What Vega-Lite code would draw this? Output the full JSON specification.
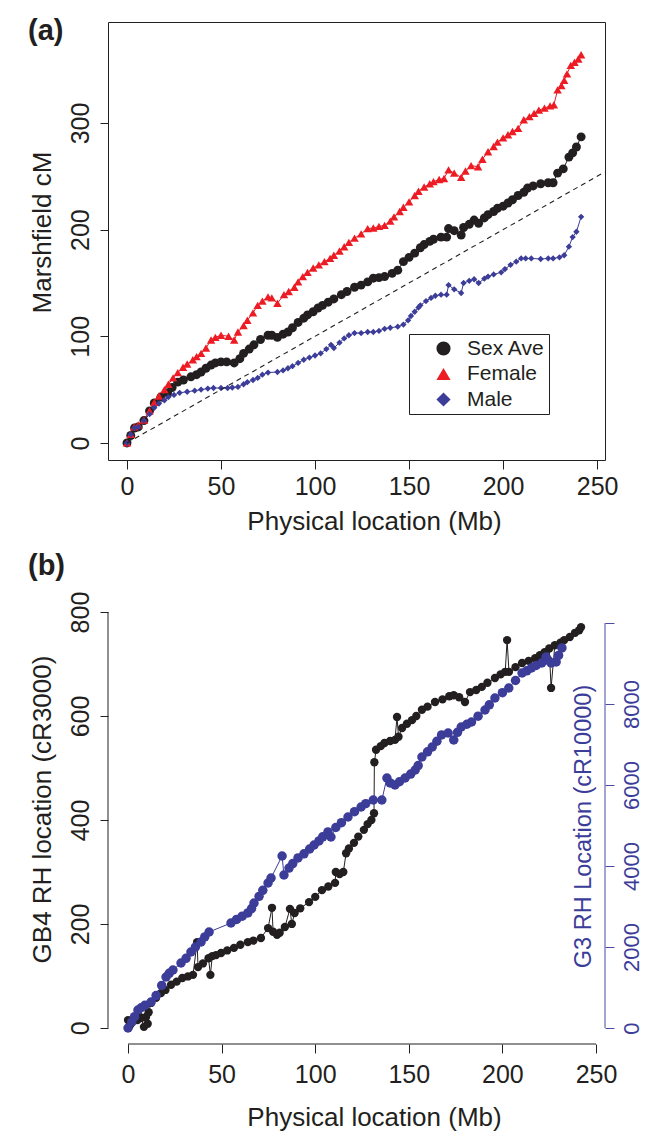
{
  "$schema": "https://vega.github.io/schema/vega-lite/v6.json",
  "padding": {"left": 27, "top": 16, "right": 5, "bottom": 5},
  "spacing": 17,
  "config": {
    "font": "Liberation Sans",
    "view": {"stroke": null},
    "axis": {"grid": false, "domain": false, "tickColor": "#231F20", "tickWidth": 1, "labelColor": "#231F20", "titleColor": "#231F20", "labelFontSize": 25, "titleFontSize": 26, "titleFontWeight": "normal", "labelFlush": false, "labelOverlap": false, "labelBound": false, "labelFont": "Liberation Sans", "titleFont": "Liberation Sans"}
  },
  "datasets": {
    "a": [
      {"pos":0,"cM":0,"series":"Sex Ave"},{"pos":2,"cM":7,"series":"Sex Ave"},{"pos":4,"cM":14,"series":"Sex Ave"},{"pos":6,"cM":15,"series":"Sex Ave"},{"pos":9,"cM":21,"series":"Sex Ave"},{"pos":12,"cM":30,"series":"Sex Ave"},{"pos":14.5,"cM":37.5,"series":"Sex Ave"},{"pos":18,"cM":43,"series":"Sex Ave"},{"pos":21.6,"cM":47,"series":"Sex Ave"},{"pos":24,"cM":52,"series":"Sex Ave"},{"pos":27,"cM":57,"series":"Sex Ave"},{"pos":30,"cM":59,"series":"Sex Ave"},{"pos":34,"cM":62,"series":"Sex Ave"},{"pos":37,"cM":64,"series":"Sex Ave"},{"pos":39.4,"cM":66.5,"series":"Sex Ave"},{"pos":42,"cM":70,"series":"Sex Ave"},{"pos":44.7,"cM":73,"series":"Sex Ave"},{"pos":47,"cM":75,"series":"Sex Ave"},{"pos":50,"cM":76,"series":"Sex Ave"},{"pos":53,"cM":76,"series":"Sex Ave"},{"pos":57,"cM":75,"series":"Sex Ave"},{"pos":60,"cM":79,"series":"Sex Ave"},{"pos":62,"cM":84,"series":"Sex Ave"},{"pos":65,"cM":88,"series":"Sex Ave"},{"pos":67.5,"cM":92,"series":"Sex Ave"},{"pos":71,"cM":97,"series":"Sex Ave"},{"pos":75,"cM":101,"series":"Sex Ave"},{"pos":77,"cM":101,"series":"Sex Ave"},{"pos":80,"cM":99,"series":"Sex Ave"},{"pos":83,"cM":102,"series":"Sex Ave"},{"pos":85.6,"cM":104,"series":"Sex Ave"},{"pos":88,"cM":108,"series":"Sex Ave"},{"pos":91,"cM":113,"series":"Sex Ave"},{"pos":94,"cM":117,"series":"Sex Ave"},{"pos":96,"cM":120,"series":"Sex Ave"},{"pos":99,"cM":123,"series":"Sex Ave"},{"pos":101.6,"cM":126.5,"series":"Sex Ave"},{"pos":104,"cM":129,"series":"Sex Ave"},{"pos":107,"cM":132,"series":"Sex Ave"},{"pos":110,"cM":135,"series":"Sex Ave"},{"pos":114,"cM":139,"series":"Sex Ave"},{"pos":117,"cM":142,"series":"Sex Ave"},{"pos":121,"cM":146,"series":"Sex Ave"},{"pos":124.5,"cM":148,"series":"Sex Ave"},{"pos":128,"cM":151,"series":"Sex Ave"},{"pos":131,"cM":154.5,"series":"Sex Ave"},{"pos":134,"cM":155,"series":"Sex Ave"},{"pos":137,"cM":156,"series":"Sex Ave"},{"pos":141,"cM":159,"series":"Sex Ave"},{"pos":144,"cM":162,"series":"Sex Ave"},{"pos":147,"cM":170,"series":"Sex Ave"},{"pos":150,"cM":174,"series":"Sex Ave"},{"pos":153,"cM":178,"series":"Sex Ave"},{"pos":156,"cM":183,"series":"Sex Ave"},{"pos":158,"cM":186,"series":"Sex Ave"},{"pos":161,"cM":189,"series":"Sex Ave"},{"pos":163,"cM":191,"series":"Sex Ave"},{"pos":167,"cM":193,"series":"Sex Ave"},{"pos":170,"cM":193,"series":"Sex Ave"},{"pos":171,"cM":201,"series":"Sex Ave"},{"pos":174,"cM":199,"series":"Sex Ave"},{"pos":177.7,"cM":195,"series":"Sex Ave"},{"pos":179,"cM":202,"series":"Sex Ave"},{"pos":182,"cM":205,"series":"Sex Ave"},{"pos":184.6,"cM":209,"series":"Sex Ave"},{"pos":187,"cM":206,"series":"Sex Ave"},{"pos":190,"cM":211,"series":"Sex Ave"},{"pos":192,"cM":214,"series":"Sex Ave"},{"pos":195,"cM":217,"series":"Sex Ave"},{"pos":197,"cM":220,"series":"Sex Ave"},{"pos":200,"cM":222,"series":"Sex Ave"},{"pos":202.6,"cM":225,"series":"Sex Ave"},{"pos":205,"cM":228,"series":"Sex Ave"},{"pos":208,"cM":232,"series":"Sex Ave"},{"pos":211,"cM":235,"series":"Sex Ave"},{"pos":213,"cM":239,"series":"Sex Ave"},{"pos":216,"cM":241,"series":"Sex Ave"},{"pos":220,"cM":243,"series":"Sex Ave"},{"pos":224,"cM":244,"series":"Sex Ave"},{"pos":226.6,"cM":244,"series":"Sex Ave"},{"pos":229,"cM":253,"series":"Sex Ave"},{"pos":232,"cM":257,"series":"Sex Ave"},{"pos":235,"cM":268,"series":"Sex Ave"},{"pos":237,"cM":272,"series":"Sex Ave"},{"pos":239,"cM":277.5,"series":"Sex Ave"},{"pos":241.5,"cM":287,"series":"Sex Ave"},
      {"pos":0,"cM":0,"series":"Female"},{"pos":2,"cM":8,"series":"Female"},{"pos":3.9,"cM":15,"series":"Female"},{"pos":6,"cM":17,"series":"Female"},{"pos":9,"cM":21.5,"series":"Female"},{"pos":12,"cM":30,"series":"Female"},{"pos":14.5,"cM":38,"series":"Female"},{"pos":17,"cM":44,"series":"Female"},{"pos":19.9,"cM":50,"series":"Female"},{"pos":22,"cM":55,"series":"Female"},{"pos":24.5,"cM":61,"series":"Female"},{"pos":27,"cM":66,"series":"Female"},{"pos":29.8,"cM":71,"series":"Female"},{"pos":32,"cM":74,"series":"Female"},{"pos":35,"cM":78,"series":"Female"},{"pos":37,"cM":81,"series":"Female"},{"pos":39.4,"cM":84,"series":"Female"},{"pos":42,"cM":89,"series":"Female"},{"pos":44.7,"cM":96.5,"series":"Female"},{"pos":47,"cM":99,"series":"Female"},{"pos":50,"cM":101,"series":"Female"},{"pos":54,"cM":100,"series":"Female"},{"pos":57,"cM":96.5,"series":"Female"},{"pos":59,"cM":104,"series":"Female"},{"pos":62,"cM":110,"series":"Female"},{"pos":64,"cM":115,"series":"Female"},{"pos":67,"cM":122,"series":"Female"},{"pos":69.5,"cM":129,"series":"Female"},{"pos":72,"cM":133,"series":"Female"},{"pos":75,"cM":137,"series":"Female"},{"pos":77,"cM":136,"series":"Female"},{"pos":80,"cM":131,"series":"Female"},{"pos":83.5,"cM":139,"series":"Female"},{"pos":86,"cM":142,"series":"Female"},{"pos":89,"cM":146,"series":"Female"},{"pos":91,"cM":151,"series":"Female"},{"pos":93.5,"cM":156,"series":"Female"},{"pos":96,"cM":160,"series":"Female"},{"pos":99,"cM":164,"series":"Female"},{"pos":102,"cM":167,"series":"Female"},{"pos":105,"cM":170,"series":"Female"},{"pos":108,"cM":173,"series":"Female"},{"pos":110,"cM":176,"series":"Female"},{"pos":113,"cM":180,"series":"Female"},{"pos":115.5,"cM":184,"series":"Female"},{"pos":118,"cM":188,"series":"Female"},{"pos":121,"cM":192,"series":"Female"},{"pos":124.5,"cM":196,"series":"Female"},{"pos":128,"cM":201,"series":"Female"},{"pos":131,"cM":201.5,"series":"Female"},{"pos":134,"cM":203,"series":"Female"},{"pos":137,"cM":204,"series":"Female"},{"pos":140,"cM":208,"series":"Female"},{"pos":142,"cM":212,"series":"Female"},{"pos":145,"cM":217,"series":"Female"},{"pos":147,"cM":221,"series":"Female"},{"pos":150,"cM":226,"series":"Female"},{"pos":153,"cM":232,"series":"Female"},{"pos":155,"cM":236,"series":"Female"},{"pos":158,"cM":240,"series":"Female"},{"pos":161,"cM":243,"series":"Female"},{"pos":163,"cM":245,"series":"Female"},{"pos":166,"cM":247,"series":"Female"},{"pos":168.6,"cM":248,"series":"Female"},{"pos":171,"cM":256,"series":"Female"},{"pos":174,"cM":253,"series":"Female"},{"pos":177.7,"cM":249,"series":"Female"},{"pos":180,"cM":255,"series":"Female"},{"pos":183,"cM":260,"series":"Female"},{"pos":186.7,"cM":259,"series":"Female"},{"pos":189,"cM":266,"series":"Female"},{"pos":192,"cM":273,"series":"Female"},{"pos":195,"cM":278,"series":"Female"},{"pos":197,"cM":282,"series":"Female"},{"pos":200,"cM":286,"series":"Female"},{"pos":202.6,"cM":289,"series":"Female"},{"pos":205,"cM":292,"series":"Female"},{"pos":208,"cM":295,"series":"Female"},{"pos":211,"cM":303,"series":"Female"},{"pos":214,"cM":306,"series":"Female"},{"pos":216.5,"cM":309,"series":"Female"},{"pos":219,"cM":312,"series":"Female"},{"pos":222,"cM":314,"series":"Female"},{"pos":225,"cM":316,"series":"Female"},{"pos":227,"cM":317,"series":"Female"},{"pos":229,"cM":331,"series":"Female"},{"pos":231,"cM":335,"series":"Female"},{"pos":232.5,"cM":340,"series":"Female"},{"pos":234,"cM":346,"series":"Female"},{"pos":236,"cM":354,"series":"Female"},{"pos":238,"cM":357,"series":"Female"},{"pos":240,"cM":360,"series":"Female"},{"pos":241.5,"cM":364,"series":"Female"},
      {"pos":0,"cM":0,"series":"Male"},{"pos":2,"cM":8,"series":"Male"},{"pos":4,"cM":14,"series":"Male"},{"pos":6,"cM":15,"series":"Male"},{"pos":9,"cM":21,"series":"Male"},{"pos":12,"cM":27,"series":"Male"},{"pos":14.5,"cM":33,"series":"Male"},{"pos":17,"cM":37,"series":"Male"},{"pos":19.9,"cM":40,"series":"Male"},{"pos":22,"cM":43,"series":"Male"},{"pos":25,"cM":45,"series":"Male"},{"pos":28,"cM":47,"series":"Male"},{"pos":32,"cM":48,"series":"Male"},{"pos":36,"cM":49,"series":"Male"},{"pos":39.4,"cM":50,"series":"Male"},{"pos":43,"cM":51,"series":"Male"},{"pos":46,"cM":51.5,"series":"Male"},{"pos":50,"cM":51.5,"series":"Male"},{"pos":53.5,"cM":51.5,"series":"Male"},{"pos":56,"cM":52,"series":"Male"},{"pos":59,"cM":52.5,"series":"Male"},{"pos":62,"cM":55,"series":"Male"},{"pos":64,"cM":57,"series":"Male"},{"pos":67,"cM":59,"series":"Male"},{"pos":69.5,"cM":61,"series":"Male"},{"pos":72,"cM":64,"series":"Male"},{"pos":75,"cM":66,"series":"Male"},{"pos":80,"cM":66.5,"series":"Male"},{"pos":83,"cM":68,"series":"Male"},{"pos":85.6,"cM":70,"series":"Male"},{"pos":88,"cM":72,"series":"Male"},{"pos":91,"cM":75,"series":"Male"},{"pos":94,"cM":78,"series":"Male"},{"pos":97,"cM":80,"series":"Male"},{"pos":100,"cM":82,"series":"Male"},{"pos":103,"cM":84,"series":"Male"},{"pos":106,"cM":88,"series":"Male"},{"pos":108.5,"cM":92,"series":"Male"},{"pos":110,"cM":89,"series":"Male"},{"pos":113,"cM":94,"series":"Male"},{"pos":115.5,"cM":98,"series":"Male"},{"pos":118,"cM":101,"series":"Male"},{"pos":121,"cM":103,"series":"Male"},{"pos":124.5,"cM":103,"series":"Male"},{"pos":128,"cM":104,"series":"Male"},{"pos":131,"cM":104,"series":"Male"},{"pos":134,"cM":105,"series":"Male"},{"pos":137,"cM":107,"series":"Male"},{"pos":140,"cM":108,"series":"Male"},{"pos":144,"cM":109,"series":"Male"},{"pos":147,"cM":111,"series":"Male"},{"pos":149.5,"cM":115,"series":"Male"},{"pos":151,"cM":119,"series":"Male"},{"pos":153,"cM":123,"series":"Male"},{"pos":155,"cM":127,"series":"Male"},{"pos":156,"cM":129,"series":"Male"},{"pos":159,"cM":133,"series":"Male"},{"pos":161.7,"cM":136,"series":"Male"},{"pos":164,"cM":138,"series":"Male"},{"pos":167,"cM":139,"series":"Male"},{"pos":170,"cM":139,"series":"Male"},{"pos":171,"cM":148,"series":"Male"},{"pos":174,"cM":144,"series":"Male"},{"pos":177.7,"cM":140.6,"series":"Male"},{"pos":179,"cM":150,"series":"Male"},{"pos":182,"cM":152,"series":"Male"},{"pos":184.6,"cM":153.5,"series":"Male"},{"pos":187,"cM":150,"series":"Male"},{"pos":190,"cM":154,"series":"Male"},{"pos":192,"cM":156,"series":"Male"},{"pos":195,"cM":158,"series":"Male"},{"pos":199,"cM":160,"series":"Male"},{"pos":201,"cM":163,"series":"Male"},{"pos":204,"cM":167,"series":"Male"},{"pos":207,"cM":170,"series":"Male"},{"pos":209.6,"cM":173,"series":"Male"},{"pos":212,"cM":173,"series":"Male"},{"pos":215,"cM":173,"series":"Male"},{"pos":220,"cM":172.5,"series":"Male"},{"pos":224,"cM":173,"series":"Male"},{"pos":226.6,"cM":173,"series":"Male"},{"pos":230,"cM":174,"series":"Male"},{"pos":232.5,"cM":176,"series":"Male"},{"pos":235,"cM":184,"series":"Male"},{"pos":237,"cM":193,"series":"Male"},{"pos":239,"cM":198,"series":"Male"},{"pos":241.5,"cM":212,"series":"Male"}
    ],
    "gb4": [
      {"pos":0,"gb4":15},{"pos":1,"gb4":5},{"pos":2,"gb4":10},{"pos":3,"gb4":18},{"pos":5,"gb4":15},{"pos":6,"gb4":22},{"pos":7,"gb4":19},{"pos":8.5,"gb4":2},{"pos":9.6,"gb4":21},{"pos":10.5,"gb4":8},{"pos":11,"gb4":30},{"pos":12.3,"gb4":48},{"pos":15,"gb4":58},{"pos":17.6,"gb4":67},{"pos":20,"gb4":73},{"pos":23,"gb4":83},{"pos":26,"gb4":89},{"pos":29,"gb4":96},{"pos":32,"gb4":99},{"pos":34.7,"gb4":102},{"pos":36.9,"gb4":165},{"pos":37.4,"gb4":117},{"pos":40,"gb4":124},{"pos":43,"gb4":134},{"pos":44,"gb4":102},{"pos":45,"gb4":138},{"pos":47,"gb4":140},{"pos":49.7,"gb4":144},{"pos":53,"gb4":149},{"pos":56.6,"gb4":154},{"pos":60,"gb4":160},{"pos":64,"gb4":165},{"pos":67,"gb4":168},{"pos":71,"gb4":173},{"pos":74.8,"gb4":192},{"pos":76.9,"gb4":231},{"pos":77.5,"gb4":185},{"pos":79.6,"gb4":179},{"pos":81,"gb4":183},{"pos":83.8,"gb4":194},{"pos":86.5,"gb4":229},{"pos":87.5,"gb4":200},{"pos":89,"gb4":221},{"pos":92,"gb4":230},{"pos":96.7,"gb4":242},{"pos":100,"gb4":252},{"pos":103.6,"gb4":265},{"pos":107,"gb4":272},{"pos":110.6,"gb4":279},{"pos":111,"gb4":300},{"pos":113,"gb4":296},{"pos":115,"gb4":300},{"pos":116.5,"gb4":336},{"pos":118,"gb4":345},{"pos":120.7,"gb4":356},{"pos":123,"gb4":368},{"pos":126,"gb4":381},{"pos":128,"gb4":392},{"pos":130,"gb4":400},{"pos":131.4,"gb4":413},{"pos":131.6,"gb4":511},{"pos":132.5,"gb4":535},{"pos":135,"gb4":542},{"pos":137,"gb4":548},{"pos":140,"gb4":552},{"pos":142.6,"gb4":554},{"pos":143.7,"gb4":598},{"pos":144.5,"gb4":560},{"pos":146.4,"gb4":577},{"pos":149,"gb4":585},{"pos":151.7,"gb4":592},{"pos":154,"gb4":600},{"pos":157,"gb4":612},{"pos":160,"gb4":618},{"pos":164,"gb4":627},{"pos":168,"gb4":632},{"pos":171.6,"gb4":638},{"pos":174,"gb4":640},{"pos":176.9,"gb4":636},{"pos":180,"gb4":627},{"pos":182.7,"gb4":646},{"pos":186,"gb4":650},{"pos":189,"gb4":656},{"pos":192,"gb4":664},{"pos":196,"gb4":673},{"pos":199,"gb4":680},{"pos":201.5,"gb4":685},{"pos":202.5,"gb4":746},{"pos":203.5,"gb4":685},{"pos":207,"gb4":694},{"pos":210.5,"gb4":702},{"pos":214,"gb4":706},{"pos":217.5,"gb4":711},{"pos":220,"gb4":717},{"pos":222.6,"gb4":723},{"pos":225,"gb4":730},{"pos":226,"gb4":654},{"pos":228,"gb4":736},{"pos":231,"gb4":741},{"pos":233,"gb4":746},{"pos":236,"gb4":752},{"pos":238.8,"gb4":760},{"pos":241,"gb4":765},{"pos":242,"gb4":771}
    ],
    "g3": [
      {"pos":0,"g3":0},{"pos":2,"g3":150},{"pos":3.5,"g3":280},{"pos":5.3,"g3":444},{"pos":7,"g3":500},{"pos":9,"g3":560},{"pos":12.3,"g3":642},{"pos":15,"g3":800},{"pos":18,"g3":1050},{"pos":20.3,"g3":1259},{"pos":22,"g3":1350},{"pos":24,"g3":1432},{"pos":28.3,"g3":1605},{"pos":31,"g3":1720},{"pos":33.6,"g3":1877},{"pos":36,"g3":2000},{"pos":39,"g3":2123},{"pos":41,"g3":2250},{"pos":43.3,"g3":2370},{"pos":55,"g3":2593},{"pos":58,"g3":2680},{"pos":61,"g3":2760},{"pos":64,"g3":2840},{"pos":66,"g3":2950},{"pos":67.3,"g3":3086},{"pos":70,"g3":3250},{"pos":72,"g3":3400},{"pos":74.8,"g3":3580},{"pos":76.4,"g3":3704},{"pos":82.3,"g3":4247},{"pos":83.3,"g3":3778},{"pos":86,"g3":3950},{"pos":88,"g3":4060},{"pos":90.8,"g3":4198},{"pos":94,"g3":4300},{"pos":97,"g3":4420},{"pos":99.4,"g3":4518},{"pos":102,"g3":4620},{"pos":104,"g3":4720},{"pos":106.8,"g3":4840},{"pos":108.4,"g3":4716},{"pos":111,"g3":4950},{"pos":114,"g3":5070},{"pos":117.5,"g3":5210},{"pos":121,"g3":5340},{"pos":124.5,"g3":5457},{"pos":127,"g3":5540},{"pos":131,"g3":5630},{"pos":135.6,"g3":5630},{"pos":138.3,"g3":6173},{"pos":140,"g3":6050},{"pos":142.6,"g3":6000},{"pos":145,"g3":6080},{"pos":148,"g3":6173},{"pos":151,"g3":6270},{"pos":153.4,"g3":6370},{"pos":155,"g3":6480},{"pos":157,"g3":6691},{"pos":160,"g3":6820},{"pos":162.5,"g3":6938},{"pos":165,"g3":7080},{"pos":167.5,"g3":7235},{"pos":171,"g3":7284},{"pos":174,"g3":7111},{"pos":176,"g3":7300},{"pos":178,"g3":7432},{"pos":181,"g3":7500},{"pos":183.5,"g3":7555},{"pos":187,"g3":7700},{"pos":190.7,"g3":7852},{"pos":193,"g3":7980},{"pos":196,"g3":8148},{"pos":200,"g3":8280},{"pos":203.4,"g3":8395},{"pos":207,"g3":8580},{"pos":210.5,"g3":8765},{"pos":213,"g3":8820},{"pos":215.5,"g3":8889},{"pos":218,"g3":8950},{"pos":221,"g3":9012},{"pos":223.3,"g3":9160},{"pos":224.5,"g3":9080},{"pos":226,"g3":9012},{"pos":228.7,"g3":9037},{"pos":230,"g3":9200},{"pos":231.8,"g3":9383}
    ]
  },
  "vconcat": [
    {
      "width": 497,
      "height": 438,
      "view": {"stroke": "#231F20", "strokeWidth": 1},
      "title": {"text": "(a)", "anchor": "start", "frame": "group", "orient": "top", "offset": 0, "baseline": "top", "dx": -80, "dy": 24, "fontSize": 29, "fontWeight": "bold", "color": "#231F20", "font": "Liberation Sans"},
      "layer": [
        {
          "data": {"name": "a"},
          "transform": [{"filter": "datum.series == 'Sex Ave'"}],
          "mark": {"type": "line", "strokeWidth": 1, "color": "#231F20"},
          "encoding": {
            "x": {"field": "pos", "type": "quantitative", "scale": {"domain": [-10.1, 254.2], "nice": false, "zero": false},
                  "axis": {"values": [0, 50, 100, 150, 200, 250], "format": "d", "title": "Physical location (Mb)", "tickSize": 9, "labelAngle": 0, "labelAlign": "center", "labelBaseline": "alphabetic", "labelPadding": 25, "titleX": 266, "titleY": 69, "titleAlign": "center", "titleBaseline": "alphabetic"}},
            "y": {"field": "cM", "type": "quantitative", "scale": {"domain": [-16, 394.7], "nice": false, "zero": false},
                  "axis": {"values": [0, 100, 200, 300], "format": "d", "title": "Marshfield cM", "tickSize": 8, "labelAngle": 270, "labelAlign": "center", "labelBaseline": "alphabetic", "labelPadding": 12, "titleAngle": 270, "titleX": -66, "titleY": 210, "titleAlign": "center", "titleBaseline": "middle"}}
          }
        },
        {
          "data": {"name": "a"},
          "transform": [{"filter": "datum.series == 'Female'"}],
          "mark": {"type": "line", "strokeWidth": 1, "color": "#ED1C24"},
          "encoding": {"x": {"field": "pos", "type": "quantitative"}, "y": {"field": "cM", "type": "quantitative"}}
        },
        {
          "data": {"name": "a"},
          "transform": [{"filter": "datum.series == 'Male'"}],
          "mark": {"type": "line", "strokeWidth": 1, "color": "#3C3C99"},
          "encoding": {"x": {"field": "pos", "type": "quantitative"}, "y": {"field": "cM", "type": "quantitative"}}
        },
        {
          "data": {"name": "a"},
          "transform": [{"filter": "datum.series == 'Sex Ave'"}],
          "mark": {"type": "point", "filled": true, "opacity": 1, "size": 80},
          "encoding": {
            "x": {"field": "pos", "type": "quantitative"},
            "y": {"field": "cM", "type": "quantitative"},
            "color": {"field": "series", "type": "nominal", "scale": {"domain": ["Sex Ave", "Female", "Male"], "range": ["#231F20", "#ED1C24", "#3C3C99"]},
                      "legend": {"orient": "none", "legendX": 301, "legendY": 312, "title": null, "strokeColor": "#231F20", "padding": 4, "labelFontSize": 21, "labelColor": "#231F20", "labelFont": "Liberation Sans", "symbolSize": 200, "rowPadding": 3.5, "symbolOffset": 20, "labelOffset": 13, "labelExpr": "datum.label + '\u00a0\u00a0\u00a0'"}},
            "shape": {"field": "series", "type": "nominal", "scale": {"domain": ["Sex Ave", "Female", "Male"], "range": ["circle", "triangle-up", "diamond"]},
                      "legend": {"orient": "none", "legendX": 301, "legendY": 312, "title": null, "strokeColor": "#231F20", "padding": 4, "labelFontSize": 21, "labelColor": "#231F20", "labelFont": "Liberation Sans", "symbolSize": 200, "rowPadding": 3.5, "symbolOffset": 20, "labelOffset": 13, "labelExpr": "datum.label + '\u00a0\u00a0\u00a0'"}}
          }
        },
        {
          "data": {"name": "a"},
          "transform": [{"filter": "datum.series == 'Female'"}],
          "mark": {"type": "point", "filled": true, "opacity": 1, "size": 72},
          "encoding": {
            "x": {"field": "pos", "type": "quantitative"},
            "y": {"field": "cM", "type": "quantitative"},
            "color": {"field": "series", "type": "nominal"},
            "shape": {"field": "series", "type": "nominal"}
          }
        },
        {
          "data": {"name": "a"},
          "transform": [{"filter": "datum.series == 'Male'"}],
          "mark": {"type": "point", "filled": true, "opacity": 1, "size": 40},
          "encoding": {
            "x": {"field": "pos", "type": "quantitative"},
            "y": {"field": "cM", "type": "quantitative"},
            "color": {"field": "series", "type": "nominal"},
            "shape": {"field": "series", "type": "nominal"}
          }
        },
        {
          "data": {"values": [{}]},
          "mark": {"type": "rule", "strokeDash": [5, 4], "color": "#231F20", "strokeWidth": 1.1},
          "encoding": {"x": {"datum": 0}, "y": {"datum": 0}, "x2": {"datum": 254}, "y2": {"datum": 254}}
        }
      ]
    },
    {
      "width": 497,
      "height": 433,
      "title": {"text": "(b)", "anchor": "start", "frame": "group", "orient": "top", "offset": 0, "baseline": "top", "dx": -80, "dy": -10, "fontSize": 29, "fontWeight": "bold", "color": "#231F20", "font": "Liberation Sans"},
      "layer": [
        {
          "layer": [
            {
              "data": {"name": "gb4"},
              "mark": {"type": "line", "color": "#231F20", "strokeWidth": 1},
              "encoding": {
                "x": {"field": "pos", "type": "quantitative", "scale": {"domain": [-10.7, 254.8], "nice": false, "zero": false},
                      "axis": {"values": [0, 50, 100, 150, 200, 250], "format": "d", "title": "Physical location (Mb)", "tickSize": 9, "labelAngle": 0, "labelAlign": "center", "labelBaseline": "alphabetic", "labelPadding": 29, "titleX": 266, "titleY": 81, "titleAlign": "center", "titleBaseline": "alphabetic"}},
                "y": {"field": "gb4", "type": "quantitative", "scale": {"domain": [-31, 802], "nice": false, "zero": false},
                      "axis": {"values": [0, 200, 400, 600, 800], "format": "d", "title": "GB4 RH location (cR3000)", "tickSize": 8, "labelAngle": 270, "labelAlign": "center", "labelBaseline": "alphabetic", "labelPadding": 12, "titleAngle": 270, "titleX": -66, "titleY": 198, "titleAlign": "center", "titleBaseline": "middle"}}
              }
            },
            {
              "data": {"name": "gb4"},
              "mark": {"type": "circle", "color": "#231F20", "size": 70, "opacity": 1},
              "encoding": {"x": {"field": "pos", "type": "quantitative"}, "y": {"field": "gb4", "type": "quantitative"}}
            },
            {
              "data": {"values": [{}]},
              "mark": {"type": "rule", "color": "#231F20", "strokeWidth": 1},
              "encoding": {"x": {"datum": -10.7}, "y": {"datum": 0}, "y2": {"datum": 800}}
            },
            {
              "data": {"values": [{}]},
              "mark": {"type": "rule", "color": "#231F20", "strokeWidth": 1},
              "encoding": {"x": {"datum": 0}, "x2": {"datum": 250}, "y": {"datum": -31}}
            }
          ]
        },
        {
          "layer": [
            {
              "data": {"name": "g3"},
              "mark": {"type": "line", "color": "#3C3C99", "strokeWidth": 1},
              "encoding": {
                "x": {"field": "pos", "type": "quantitative"},
                "y": {"field": "g3", "type": "quantitative", "scale": {"domain": [-395, 10296], "nice": false, "zero": false},
                      "axis": {"orient": "right", "values": [0, 2000, 4000, 6000, 8000, 10000], "format": "d", "labelExpr": "datum.value == 10000 ? '' : datum.label", "tickSize": 9, "tickColor": "#4B4BA3", "labelColor": "#3C3C99", "labelFontSize": 22, "labelAngle": 270, "labelAlign": "center", "labelBaseline": "alphabetic", "labelPadding": 24, "title": "G3 RH Location (cR10000)", "titleColor": "#3C3C99", "titleFontSize": 23.5, "titleAngle": 270, "titleX": -21.5, "titleY": 215, "titleAlign": "center", "titleBaseline": "middle"}}
              }
            },
            {
              "data": {"name": "g3"},
              "mark": {"type": "circle", "color": "#3C3C99", "size": 90, "opacity": 1},
              "encoding": {"x": {"field": "pos", "type": "quantitative"}, "y": {"field": "g3", "type": "quantitative"}}
            },
            {
              "data": {"values": [{}]},
              "mark": {"type": "rule", "color": "#4B4BA3", "strokeWidth": 1},
              "encoding": {"x": {"datum": 254.8}, "y": {"datum": 0}, "y2": {"datum": 10000}}
            }
          ]
        }
      ],
      "resolve": {"scale": {"y": "independent"}}
    }
  ]
}
